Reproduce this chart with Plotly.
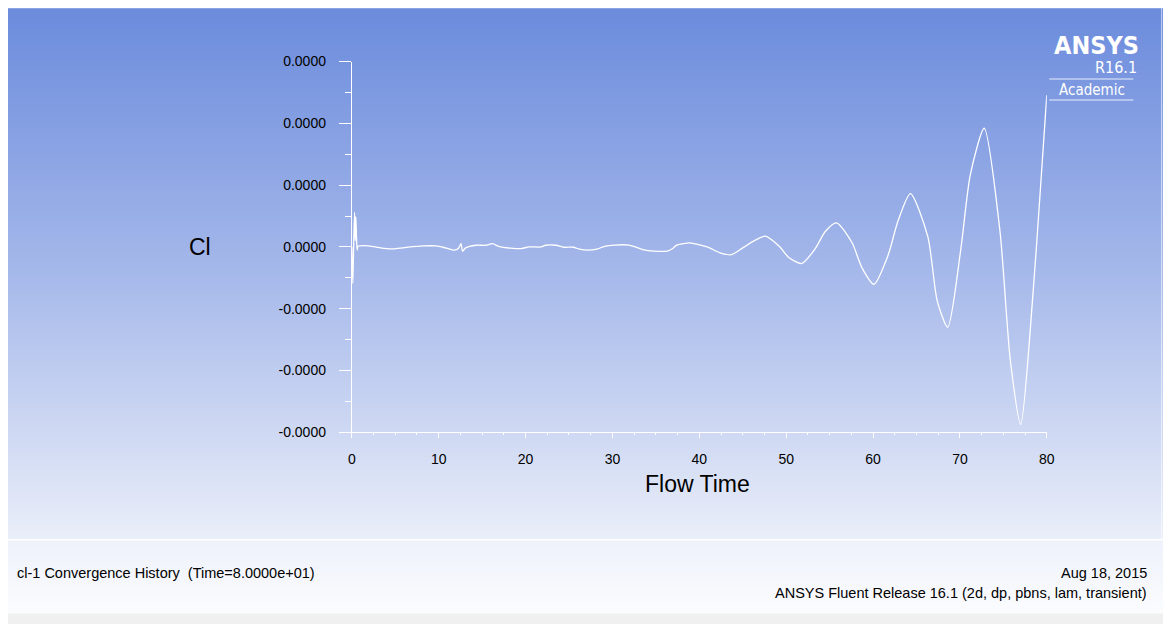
import plotly.graph_objects as go

W, H = 1171, 624
OFF = 8  # the page shows the figure 8 px in from its top-left corner

# flow time (s) and lift coefficient (in units of 1e-5)
flow_time = [0.0, 0.12, 0.22, 0.32, 0.40, 0.47, 0.55, 0.62, 0.72,
             1.4, 2.7, 3.3, 4.6, 6.1, 8.2, 9.7, 10.9, 11.8, 12.3, 12.57, 12.76, 13.1,
             14.3, 15.4, 16.2, 16.9, 18.3, 19.5, 20.4, 21.8, 22.3, 23.5, 24.5, 25.5,
             26.2, 27.2, 28.2, 29.1, 30.2, 31.9, 32.6, 33.5, 34.8, 36.3, 36.9, 37.4,
             38.6, 39.1, 40.9, 42.4, 43.7, 45.0, 46.2, 47.6, 49.2, 50.3, 51.8, 53.4,
             54.5, 55.8, 57.6, 58.7, 60.1, 61.7, 62.9, 64.3, 66.3, 67.4, 68.6, 70.1,
             71.2, 72.8, 74.6, 75.8, 77.0, 78.4, 79.2, 80.0]
cl = [0.0, -0.59, 0.05, 0.56, 0.10, 0.49, 0.14, -0.05, 0.01,
      0.02, 0.0, -0.016, -0.032, -0.01, 0.016, 0.016, -0.02, -0.052, -0.02, 0.052, -0.068, -0.016,
      0.027, 0.027, 0.052, 0.01, -0.02, -0.027, 0.0, 0.0, 0.027, 0.027, -0.005, -0.005,
      -0.036, -0.052, -0.036, 0.01, 0.03, 0.03, 0.0, -0.042, -0.068, -0.068, -0.03, 0.03,
      0.063, 0.063, 0.0, -0.095, -0.126, -0.016, 0.09, 0.174, 0.01, -0.17, -0.268, -0.016,
      0.25, 0.39, 0.063, -0.33, -0.604, -0.147, 0.43, 0.863, 0.17, -0.88, -1.30, -0.04,
      1.17, 1.92, 0.27, -1.83, -2.87, -0.78, 0.80, 2.456]

x_ticks = [0, 10, 20, 30, 40, 50, 60, 70, 80]
y_ticks = [-3, -2, -1, 0, 1, 2, 3]
y_labels = ["-0.0000", "-0.0000", "-0.0000", "0.0000", "0.0000", "0.0000", "0.0000"]

FONT = "Liberation Sans, Arial, sans-serif"


def px_x(p):
    return (p - OFF) / W


def px_y(p):
    return 1 - (p - OFF) / H


def mix(stops, p):
    # linear colour between (pixel, rgb) stops
    for (p0, c0), (p1, c1) in zip(stops, stops[1:]):
        if p <= p1:
            t = (p - p0) / (p1 - p0)
            return "rgb(%d,%d,%d)" % tuple(round(a + (b - a) * t) for a, b in zip(c0, c1))
    return "rgb(%d,%d,%d)" % stops[-1][1]


fig = go.Figure()
fig.add_trace(go.Scatter(x=flow_time, y=cl, mode="lines",
                         line=dict(color="white", width=1.3, shape="spline", smoothing=0.7),
                         showlegend=False))

fig.update_layout(
    width=W, height=H, autosize=False,
    margin=dict(l=0, r=0, t=0, b=0),
    paper_bgcolor="#f0f0f0", plot_bgcolor="rgba(0,0,0,0)",
    showlegend=False,
    font=dict(family=FONT, color="black", size=14),
    xaxis=dict(domain=[px_x(351.3), px_x(1053.5)], range=[0, 80],
               tickvals=x_ticks, ticks="outside", ticklen=5, tickcolor="white",
               minor=dict(dtick=2.5, ticks="outside", ticklen=2, tickcolor="white"),
               showline=True, linecolor="white", linewidth=1,
               showgrid=False, zeroline=False, ticklabelstandoff=9,
               tickfont=dict(size=14, color="black")),
    yaxis=dict(domain=[px_y(435.3), px_y(54.7)], range=[-3, 3],
               tickvals=y_ticks, ticktext=y_labels, ticks="outside", ticklen=12, tickcolor="white",
               minor=dict(dtick=0.5, ticks="outside", ticklen=6, tickcolor="white"),
               showline=True, linecolor="white", linewidth=1,
               showgrid=False, zeroline=False, ticklabelstandoff=10,
               tickfont=dict(size=14, color="black")),
)

# background gradients drawn as overlapping bands under the plot (overlap hides seams)
bg_stops = [(0, (107, 139, 220)), (270, (165, 184, 234)), (545, (234, 238, 249))]
panel_stops = [(545, (238, 241, 250)), (621, (251, 252, 254))]
step = 3
for top in range(0, 545, step):
    fig.add_shape(type="rect", xref="paper", yref="paper", layer="below",
                  x0=px_x(0), x1=px_x(W + OFF), y0=px_y(min(top + step + 2, 545)), y1=px_y(top),
                  fillcolor=mix(bg_stops, top + step / 2), line_width=0)
for top in range(545, 621, step):
    fig.add_shape(type="rect", xref="paper", yref="paper", layer="below",
                  x0=px_x(0), x1=px_x(W + OFF), y0=px_y(min(top + step + 2, 621)), y1=px_y(top),
                  fillcolor=mix(panel_stops, top + step / 2), line_width=0)

# panel border, right edge, logo rules
fig.add_shape(type="line", xref="paper", yref="paper", x0=px_x(0), x1=px_x(W + OFF),
              y0=px_y(545.5), y1=px_y(545.5), line=dict(color="rgba(255,255,255,0.95)", width=1.5))
fig.add_shape(type="line", xref="paper", yref="paper", x0=px_x(1169.5), x1=px_x(1169.5),
              y0=px_y(545), y1=px_y(0), line=dict(color="rgba(255,255,255,0.6)", width=1))
for yy in (72.7, 94.3):
    fig.add_shape(type="line", xref="paper", yref="paper", x0=px_x(1056), x1=px_x(1141),
                  y0=px_y(yy), y1=px_y(yy), line=dict(color="rgba(255,255,255,0.55)", width=1.5))


def label(text, x, y, size, xanchor="center", color="black", family=FONT):
    fig.add_annotation(text=text, x=px_x(x), y=px_y(y), xref="paper", yref="paper",
                       xanchor=xanchor, yanchor="middle", showarrow=False, borderpad=0,
                       font=dict(size=size, color=color, family=family))


label("Cl", 198, 245, 23)
label("Flow Time", 701, 488, 23)
label("cl-1 Convergence History  (Time=8.0000e+01)", 12, 580, 14.5, xanchor="left")
label("Aug 18, 2015", 1156, 580, 14.5, xanchor="right")
label("ANSYS Fluent Release 16.1 (2d, dp, pbns, lam, transient)", 1156, 600, 14.5, xanchor="right")

logo_font = "DejaVu Sans Condensed, Liberation Sans Narrow, Liberation Sans, sans-serif"
label("<b>ANSYS</b>", 1148, 38, 25, xanchor="right", color="white", family=logo_font)
label("R16.1", 1146, 61, 16, xanchor="right", color="white", family=logo_font)
label("Academic", 1099, 84, 15, color="white", family=logo_font)

fig.write_html("out.html", config={"displayModeBar": False})
